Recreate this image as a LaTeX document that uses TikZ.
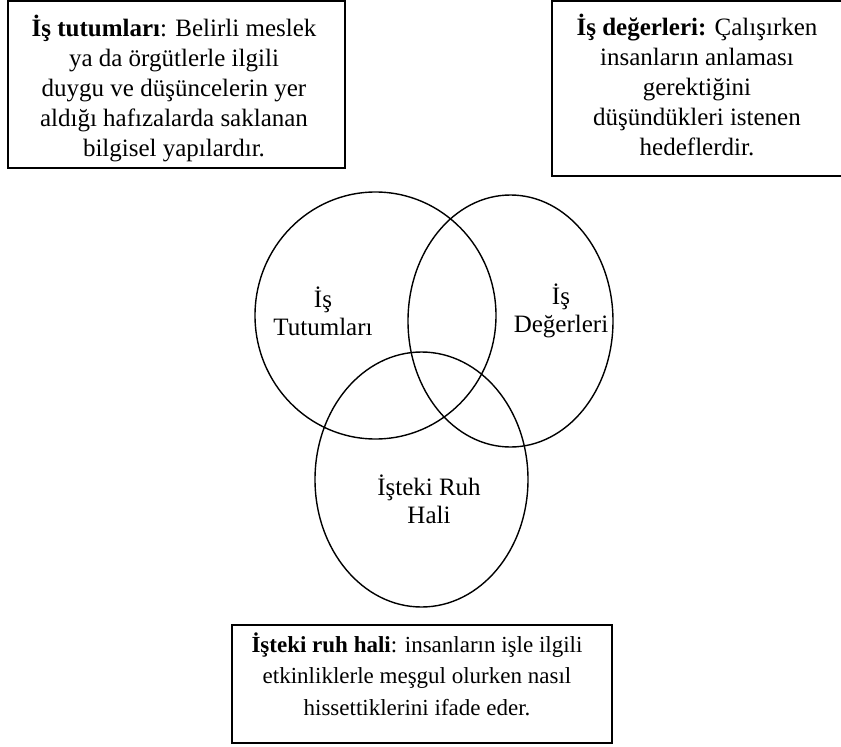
\documentclass[tikz,border=0pt]{standalone}
\usepackage{fontspec}
\setmainfont{Liberation Serif}
\usetikzlibrary{shapes.geometric,shadows}
\begin{document}
\begin{tikzpicture}[x=1pt,y=-1pt,
  box/.style={draw, fill=white, line width=1.2pt, inner sep=0pt,
    drop shadow={shadow xshift=1.3pt, shadow yshift=-1.3pt, fill=black, opacity=0.8}},
  venn/.style={draw, ellipse, line width=1.4pt, inner sep=0pt},
  txt/.style={align=center, font=\fontsize{25}{30}\selectfont, inner sep=0pt},
  txtc/.style={align=center, font=\fontsize{23}{31.5}\selectfont, inner sep=0pt},
  lbl/.style={align=center, font=\fontsize{25}{28}\selectfont, inner sep=0pt}]
\useasboundingbox (0,0) rectangle (841,747);
% boxes
\node[box, minimum width=337pt, minimum height=167pt] (b1) at (176.5,84.5) {};
\node[box, minimum width=291pt, minimum height=175pt] (b2) at (697.5,88.5) {};
\node[box, minimum width=380pt, minimum height=118pt] (b3) at (422,684) {};
\node[txt] (t1) at (174,88) {\textbf{İş tutumları}: Belirli meslek\\ya da örgütlerle ilgili\\duygu ve düşüncelerin yer\\aldığı hafızalarda saklanan\\bilgisel yapılardır.};
\node[txt] (t2) at (697,85) {\textbf{İş değerleri:} Çalışırken\\insanların anlaması\\gerektiğini\\düşündükleri istenen\\hedeflerdir.};
\node[txtc] (t3) at (417,674) {\textbf{İşteki ruh hali}: insanların işle ilgili\\etkinliklerle meşgul olurken nasıl\\hissettiklerini ifade eder.};
% venn
\node[venn, minimum width=241pt, minimum height=247pt] (c1) at (375.5,315.5) {};
\node[venn, minimum width=205pt, minimum height=252pt] (c2) at (510.5,321) {};
\node[venn, minimum width=213pt, minimum height=255pt] (c3) at (421.5,479.5) {};
\node[lbl] (l1) at (323,311) {İş\\Tutumları};
\node[lbl] (l2) at (561,311) {İş\\Değerleri};
\node[lbl] (l3) at (429,499) {İşteki Ruh\\Hali};
\end{tikzpicture}
\end{document}
